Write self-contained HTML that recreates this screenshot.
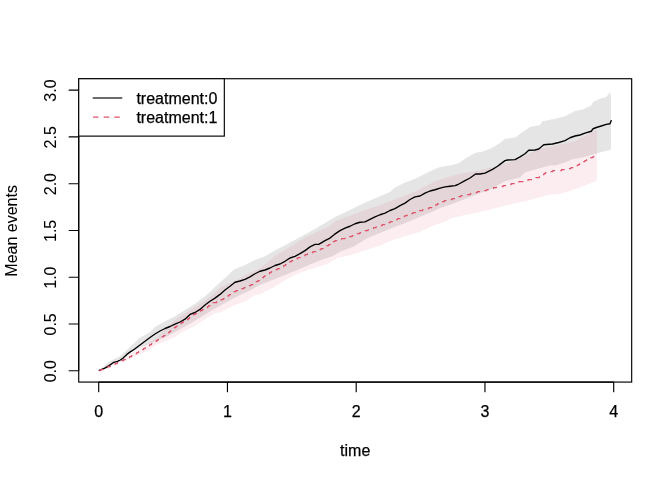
<!DOCTYPE html>
<html><head><meta charset="utf-8"><style>
html,body{margin:0;padding:0;background:#fff;}
svg{display:block;will-change:transform;}
text{font-family:"Liberation Sans",sans-serif;font-size:16px;fill:#000;stroke:#000;stroke-width:0.25px;}
text.r{stroke-width:0.08px;}
</style></head><body>
<svg width="672" height="480" viewBox="0 0 672 480">
<rect x="0" y="0" width="672" height="480" fill="#fff"/>
<path d="M99.40 370.00 L110.00 361.25 L120.00 356.25 L130.00 346.90 L140.00 337.70 L150.00 331.90 L155.00 326.90 L165.00 321.25 L175.00 316.25 L185.00 310.00 L195.00 303.75 L205.00 296.25 L210.00 291.90 L215.00 286.90 L225.00 278.10 L234.00 269.40 L245.00 265.00 L255.00 260.00 L265.00 256.25 L275.00 250.60 L290.00 242.50 L305.00 234.40 L320.00 226.00 L335.00 216.90 L350.00 210.00 L365.00 202.50 L380.00 196.25 L390.00 191.90 L395.00 187.50 L405.00 182.50 L415.00 178.75 L425.00 173.75 L435.00 169.00 L440.00 166.90 L452.50 165.00 L458.75 163.10 L465.00 158.75 L475.00 153.10 L483.75 151.25 L492.50 147.50 L500.00 143.10 L505.00 138.75 L515.00 137.50 L530.00 126.90 L540.00 125.00 L542.50 121.25 L555.00 118.75 L565.00 116.25 L575.00 110.90 L582.50 109.40 L591.25 105.60 L593.10 101.90 L600.00 98.75 L606.25 96.90 L610.00 91.90 L610.00 96.25 L611.00 91.90 L611.00 149.70 L597.00 153.30 L589.30 155.60 L581.00 157.70 L572.70 159.30 L564.30 162.70 L556.00 165.20 L550.00 165.60 L537.50 168.75 L525.00 172.50 L520.00 177.60 L513.30 179.25 L505.00 181.30 L496.70 185.90 L488.30 190.50 L480.00 193.00 L465.00 199.00 L452.50 204.00 L440.00 208.00 L433.30 211.20 L420.00 216.70 L406.70 222.50 L393.30 227.50 L380.00 233.00 L366.70 238.50 L353.30 246.70 L340.00 251.70 L333.00 256.00 L320.00 260.60 L310.00 264.40 L297.50 270.00 L285.00 275.00 L272.50 280.00 L260.00 285.00 L250.00 290.60 L237.50 296.25 L225.00 303.10 L212.50 310.00 L193.30 321.70 L166.70 336.70 L140.00 347.50 L99.40 370.50 Z" fill="#000" fill-opacity="0.1" stroke="none"/>
<path d="M99.40 370.00 L130.00 354.00 L155.00 339.00 L175.00 319.40 L205.00 300.60 L215.00 292.50 L220.00 287.50 L236.70 280.00 L245.00 275.00 L260.00 268.30 L275.00 256.00 L305.00 237.50 L330.00 226.00 L335.00 221.25 L365.00 210.00 L380.00 205.00 L396.00 199.00 L414.00 192.00 L435.00 181.25 L456.00 174.50 L475.00 171.25 L494.00 167.00 L515.00 160.60 L540.00 148.30 L545.00 148.10 L575.00 141.25 L596.90 129.40 L596.90 180.80 L573.30 190.00 L560.00 193.75 L547.50 195.00 L537.50 198.10 L525.00 201.25 L512.50 203.90 L500.00 206.90 L490.00 209.40 L477.50 212.50 L465.00 215.00 L452.50 218.10 L446.70 220.80 L433.30 225.80 L420.00 231.70 L406.70 235.80 L393.30 240.00 L380.00 245.50 L366.70 250.00 L353.30 254.20 L337.00 258.20 L326.70 264.20 L313.30 268.30 L300.00 272.80 L286.70 279.20 L273.30 287.50 L260.00 294.20 L255.00 295.00 L246.70 300.80 L233.30 305.80 L220.00 312.50 L215.00 313.00 L206.70 318.30 L194.00 326.30 L180.00 333.30 L175.00 336.90 L166.70 340.80 L155.00 345.60 L150.00 350.00 L140.00 354.30 L130.00 358.75 L120.00 362.50 L99.40 371.00 Z" fill="#DF536B" fill-opacity="0.1" stroke="none"/>
<path d="M99.20 370.30 L104.40 368.40 L109.10 365.60 L113.75 362.30 L117.50 361.40 L120.30 360.00 L123.10 358.10 L126.90 354.40 L130.60 351.60 L134.40 349.20 L140.00 345.00 L145.00 341.25 L150.00 337.50 L155.00 334.00 L160.00 331.00 L165.00 328.50 L170.00 326.50 L175.00 324.20 L180.00 322.00 L185.00 319.20 L190.00 314.40 L195.00 312.50 L200.00 309.40 L205.00 305.00 L210.00 301.25 L215.00 298.10 L220.00 294.40 L225.00 290.00 L230.00 286.25 L235.00 282.25 L240.00 281.00 L245.00 279.40 L250.00 276.90 L255.00 273.75 L260.00 271.25 L265.00 270.00 L270.00 268.00 L275.00 265.50 L280.00 264.00 L285.00 261.30 L290.00 258.00 L295.00 256.30 L300.00 253.60 L305.00 250.60 L310.00 246.90 L315.00 244.40 L318.75 244.40 L325.00 240.60 L330.00 238.10 L334.40 234.40 L340.00 230.60 L345.00 228.10 L350.00 226.25 L355.00 223.75 L360.00 222.25 L365.00 221.90 L370.00 219.40 L375.00 216.90 L380.00 214.75 L385.00 213.10 L390.00 210.50 L395.00 208.60 L400.00 205.60 L405.00 203.10 L410.00 199.50 L415.00 196.90 L420.00 196.00 L425.00 193.10 L430.00 191.00 L435.00 189.75 L440.00 188.10 L445.00 186.90 L450.00 186.25 L455.00 185.60 L457.50 184.75 L465.00 180.60 L470.00 178.00 L475.60 174.00 L480.00 174.00 L485.00 173.10 L487.50 171.90 L492.50 169.40 L497.50 166.25 L500.00 164.40 L505.00 160.60 L507.50 160.00 L515.00 159.70 L520.00 156.90 L525.00 153.75 L528.75 150.25 L535.00 150.00 L538.75 149.00 L543.75 144.75 L552.50 144.00 L558.75 142.50 L565.00 140.60 L570.00 137.75 L575.00 136.00 L580.00 135.00 L585.00 133.10 L591.25 131.25 L593.10 128.75 L596.25 127.50 L601.25 126.00 L606.25 124.40 L610.00 123.75 L611.25 120.60" fill="none" stroke="#000" stroke-width="1.35" stroke-linejoin="round" stroke-linecap="round"/>
<path d="M99.40 370.60 H100.65 V369.60 H103.10 V368.60 H105.50 V367.60 H107.95 V366.60 H110.35 V365.60 H112.65 V364.60 H114.95 V363.60 H117.25 V362.60 H119.55 V361.60 H121.65 V360.60 H123.65 V359.60 H125.65 V358.60 H127.65 V357.60 H129.65 V356.60 H131.45 V355.60 H133.20 V354.60 H135.00 V353.60 H136.75 V352.60 H138.50 V351.60 H140.25 V350.60 H141.85 V349.60 H143.45 V348.60 H145.05 V347.60 H146.65 V346.60 H148.25 V345.60 H149.85 V344.60 H151.50 V343.60 H153.10 V342.60 H154.70 V341.60 H156.25 V340.60 H157.75 V339.60 H159.25 V338.60 H160.75 V337.60 H162.25 V336.60 H163.65 V335.60 H165.10 V334.60 H166.50 V333.60 H167.90 V332.60 H169.30 V331.60 H170.55 V330.60 H171.80 V329.60 H173.05 V328.60 H174.30 V327.60 H175.60 V326.60 H177.00 V325.60 H178.45 V324.60 H179.85 V323.60 H181.30 V322.60 H183.30 V321.60 H185.30 V320.60 H186.90 V319.60 H188.15 V318.60 H189.40 V317.60 H190.65 V316.60 H191.90 V315.60 H193.35 V314.60 H195.05 V313.60 H196.75 V312.60 H198.45 V311.60 H200.35 V310.60 H202.35 V309.60 H204.30 V308.60 H206.30 V307.60 H207.55 V306.60 H208.80 V305.60 H210.05 V304.60 H211.30 V303.60 H212.55 V302.60 H216.70 V301.60 H219.10 V300.60 H221.10 V299.60 H223.10 V298.60 H225.10 V297.60 H226.80 V296.60 H228.05 V295.60 H229.30 V294.60 H230.55 V293.60 H231.80 V292.60 H233.50 V291.60 H235.90 V290.60 H238.35 V289.60 H240.95 V288.60 H243.95 V287.60 H246.50 V286.60 H248.70 V285.60 H250.95 V284.60 H253.00 V283.60 H254.65 V282.60 H256.30 V281.60 H257.95 V280.60 H259.45 V279.60 H260.80 V278.60 H262.15 V277.60 H263.55 V276.60 H264.90 V275.60 H266.45 V274.60 H268.05 V273.60 H269.60 V272.60 H271.20 V271.60 H272.85 V270.60 H275.15 V269.60 H277.45 V268.60 H279.75 V267.60 H282.05 V266.60 H283.75 V265.60 H285.25 V264.60 H286.75 V263.60 H288.25 V262.60 H289.75 V261.60 H291.60 V260.60 H293.60 V259.60 H295.60 V258.60 H297.80 V257.60 H300.20 V256.60 H302.60 V255.60 H305.00 V254.60 H307.40 V253.60 H309.80 V252.60 H312.90 V251.60 H316.60 V250.60 H318.80 V249.60 H320.95 V248.60 H323.15 V247.60 H324.95 V246.60 H326.80 V245.60 H328.60 V244.60 H330.45 V243.60 H331.95 V242.60 H333.40 V241.60 H334.90 V240.60 H338.15 V239.60 H341.60 V238.60 H345.05 V237.60 H348.55 V236.60 H352.05 V235.60 H355.00 V234.60 H357.40 V233.60 H359.80 V232.60 H362.40 V231.60 H365.25 V230.60 H368.05 V229.60 H370.85 V228.60 H373.50 V227.60 H376.20 V226.60 H379.05 V225.60 H382.15 V224.60 H385.20 V223.60 H387.80 V222.60 H390.20 V221.60 H392.60 V220.60 H395.05 V219.60 H397.55 V218.60 H400.05 V217.60 H402.45 V216.60 H404.85 V215.60 H407.30 V214.60 H410.05 V213.60 H412.90 V212.60 H415.70 V211.60 H419.10 V210.60 H422.60 V209.60 H425.95 V208.60 H428.95 V207.60 H431.95 V206.60 H434.00 V205.60 H435.85 V204.60 H437.65 V203.60 H439.70 V202.60 H442.00 V201.60 H444.30 V200.60 H447.05 V199.60 H452.05 V198.60 H455.45 V197.60 H458.00 V196.60 H461.00 V195.60 H465.75 V194.60 H470.35 V193.60 H473.80 V192.60 H477.25 V191.60 H481.15 V190.60 H486.65 V189.60 H490.45 V188.60 H493.45 V187.60 H496.45 V186.60 H503.05 V185.60 H507.85 V184.60 H511.30 V183.60 H514.70 V182.60 H518.90 V181.60 H523.25 V180.60 H527.95 V179.60 H532.35 V178.60 H535.85 V177.60 H539.35 V176.60 H541.15 V175.60 H542.60 V174.60 H544.00 V173.60 H545.40 V172.60 H548.10 V171.60 H552.70 V170.60 H561.55 V169.60 H568.25 V168.60 H570.85 V167.60 H573.40 V166.60 H575.95 V165.60 H577.95 V164.60 H579.65 V163.60 H581.40 V162.60 H583.10 V161.60 H584.85 V160.60 H586.55 V159.60 H588.70 V158.60 H590.85 V157.60 H593.00 V156.60 H595.20 V155.60 H595.80 V155.80" fill="none" stroke="#DF536B" stroke-width="1.15" stroke-dasharray="5.33 5.33" stroke-linejoin="round"/>
<rect x="78.72" y="78.72" width="552.9599999999999" height="303.36" fill="none" stroke="#000" stroke-width="1.15"/>
<path d="M98.70 382.08 L613.70 382.08 M98.70 382.08 L98.70 391.68 M227.45 382.08 L227.45 391.68 M356.20 382.08 L356.20 391.68 M484.95 382.08 L484.95 391.68 M613.70 382.08 L613.70 391.68" stroke="#000" stroke-width="1.15" fill="none" stroke-linecap="round"/>
<path d="M78.72 370.75 L78.72 90.17 M78.72 370.75 L69.12 370.75 M78.72 323.99 L69.12 323.99 M78.72 277.22 L69.12 277.22 M78.72 230.46 L69.12 230.46 M78.72 183.70 L69.12 183.70 M78.72 136.93 L69.12 136.93 M78.72 90.17 L69.12 90.17" stroke="#000" stroke-width="1.15" fill="none" stroke-linecap="round"/>
<text x="98.70" y="416.9" text-anchor="middle">0</text>
<text x="227.45" y="416.9" text-anchor="middle">1</text>
<text x="356.20" y="416.9" text-anchor="middle">2</text>
<text x="484.95" y="416.9" text-anchor="middle">3</text>
<text x="613.70" y="416.9" text-anchor="middle">4</text>
<text class="r" transform="translate(55.7 371.15) rotate(-90)" text-anchor="middle">0.0</text>
<text class="r" transform="translate(55.7 324.39) rotate(-90)" text-anchor="middle">0.5</text>
<text class="r" transform="translate(55.7 277.62) rotate(-90)" text-anchor="middle">1.0</text>
<text class="r" transform="translate(55.7 230.86) rotate(-90)" text-anchor="middle">1.5</text>
<text class="r" transform="translate(55.7 184.10) rotate(-90)" text-anchor="middle">2.0</text>
<text class="r" transform="translate(55.7 137.33) rotate(-90)" text-anchor="middle">2.5</text>
<text class="r" transform="translate(55.7 90.57) rotate(-90)" text-anchor="middle">3.0</text>

<text x="355.2" y="455.7" text-anchor="middle">time</text>
<text class="r" transform="translate(16.9 230.9) rotate(-90)" text-anchor="middle">Mean events</text>
<rect x="78.72" y="78.72" width="145.6" height="57.4" fill="#fff" stroke="#000" stroke-width="1.15"/>
<path d="M92.7 98 L122.3 98" stroke="#000" stroke-width="1.15"/>
<path d="M93 117.1 L122.3 117.1" stroke="#DF536B" stroke-width="1.15" stroke-dasharray="5.5 5.17"/>
<text x="136.4" y="104">treatment:0</text>
<text x="136.4" y="123">treatment:1</text>
</svg>
</body></html>
